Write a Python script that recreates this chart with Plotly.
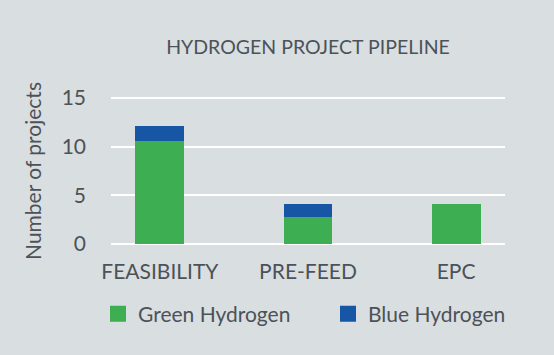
import plotly.graph_objects as go

categories = ["FEASIBILITY", "PRE-FEED", "EPC"]
green_values = [10.6, 2.75, 4.15]
blue_values = [1.55, 1.4, 0]
series_names = ["Green Hydrogen", "Blue Hydrogen"]
y_ticks = [0, 5, 10, 15]

GREEN = "#3dae52"
BLUE = "#1656a5"
BG = "#d9dee1"
TXT = "#4c5258"
FONT = "Lato, 'Open Sans', sans-serif"

fig = go.Figure()
fig.add_trace(go.Bar(x=categories, y=green_values, name=series_names[0],
                     marker=dict(color=GREEN, line=dict(width=0)), width=0.33,
                     showlegend=False))
fig.add_trace(go.Bar(x=categories, y=blue_values, name=series_names[1],
                     marker=dict(color=BLUE, line=dict(width=0)), width=0.33,
                     showlegend=False))
# legend proxies
fig.add_trace(go.Scatter(x=[None], y=[None], mode="markers", name=series_names[0],
                         marker=dict(symbol="square", size=16, color=GREEN), legend="legend"))
fig.add_trace(go.Scatter(x=[None], y=[None], mode="markers", name=series_names[1],
                         marker=dict(symbol="square", size=16, color=BLUE), legend="legend2"))

legend_common = dict(orientation="h", xref="container", yref="container",
                     xanchor="left", y=1 - 314 / 355, yanchor="middle",
                     font=dict(size=21, color=TXT), bgcolor="rgba(0,0,0,0)", itemclick=False)

fig.update_layout(
    width=554, height=355,
    barmode="stack",
    paper_bgcolor=BG, plot_bgcolor=BG,
    margin=dict(l=111, r=49, t=95, b=108, autoexpand=False),
    font=dict(family=FONT, color=TXT, size=21),
    title=dict(text="HYDROGEN PROJECT PIPELINE", x=(111 + 505) / 2 / 554, xanchor="center",
               y=1 - 47 / 355, yanchor="middle", font=dict(size=19.5, color=TXT)),
    xaxis=dict(range=[-0.33, 2.33], showgrid=False, zeroline=False, showline=False,
               tickfont=dict(size=21, color=TXT), ticklabelstandoff=10),
    yaxis=dict(range=[-0.3, 15.3], tickvals=y_ticks, showgrid=True, gridcolor="white",
               gridwidth=2, zeroline=False, showline=False,
               tickfont=dict(size=21, color=TXT), ticklabelstandoff=24,
               title=dict(text="Number of projects", font=dict(size=21, color=TXT), standoff=14)),
    legend=dict(x=98 / 554, **legend_common),
    legend2=dict(x=328 / 554, **legend_common),
)

fig.write_html("out.html", config={"displayModeBar": False},
               post_script="document.body.style.margin='0';document.body.style.padding='0';")
